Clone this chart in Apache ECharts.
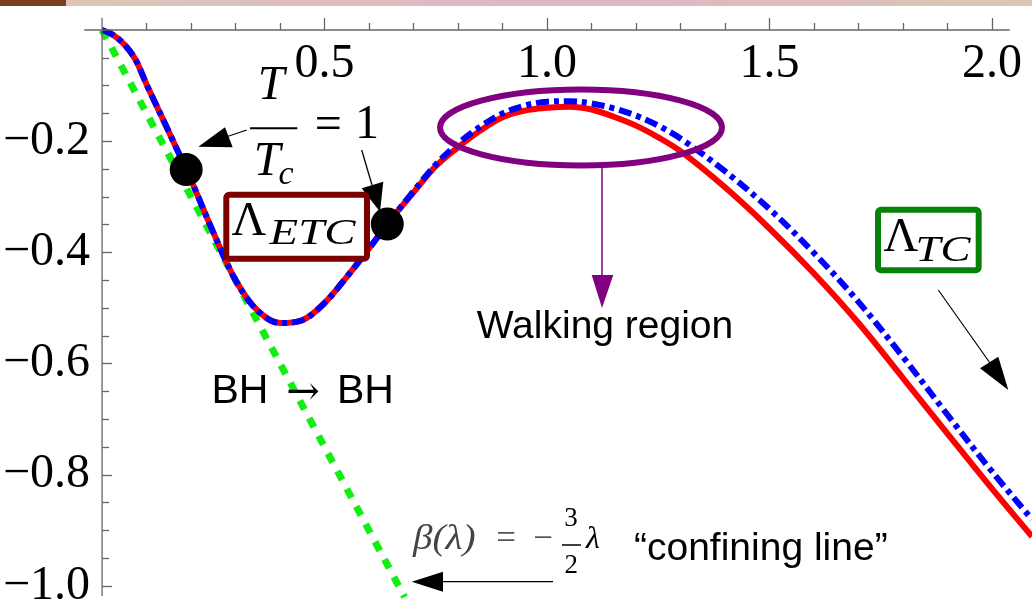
<!DOCTYPE html>
<html><head><meta charset="utf-8">
<script src="https://cdn.jsdelivr.net/npm/echarts@6/dist/echarts.min.js"></script>
<style>html,body{margin:0;padding:0;background:#fff}#c{width:1032px;height:610px}</style>
</head><body><div id="c"></div>
<script>
// ---- data ----
const xTicks = [0.5, 1.0, 1.5, 2.0];
const xTickLabels = ['0.5', '1.0', '1.5', '2.0'];
const xMinorTicks = [0.1, 0.2, 0.3, 0.4, 0.6, 0.7, 0.8, 0.9, 1.1, 1.2, 1.3, 1.4, 1.6, 1.7, 1.8, 1.9];
const yTicks = [-0.2, -0.4, -0.6, -0.8, -1.0];
const yTickLabels = ['\u22120.2', '\u22120.4', '\u22120.6', '\u22120.8', '\u22121.0'];

const redX = [0, 0.025, 0.05, 0.075, 0.1, 0.15, 0.2, 0.25, 0.3, 0.35, 0.4, 0.45, 0.5, 0.55, 0.6, 0.65, 0.7, 0.75, 0.8, 0.85, 0.9, 0.95, 1.0, 1.05, 1.1, 1.15, 1.2, 1.25, 1.3, 1.4, 1.5, 1.6, 1.7, 1.8, 1.9, 2.0, 2.09];
const redY = [0, -0.009, -0.026, -0.053, -0.098, -0.183, -0.270, -0.364, -0.450, -0.505, -0.527, -0.522, -0.491, -0.444, -0.393, -0.340, -0.292, -0.245, -0.211, -0.181, -0.157, -0.145, -0.140, -0.138, -0.143, -0.156, -0.172, -0.193, -0.218, -0.283, -0.357, -0.438, -0.527, -0.626, -0.726, -0.825, -0.911];

const blueX = [0, 0.025, 0.05, 0.075, 0.1, 0.15, 0.2, 0.25, 0.3, 0.35, 0.4, 0.45, 0.5, 0.55, 0.6, 0.65, 0.7, 0.75, 0.8, 0.85, 0.9, 0.95, 1.0, 1.05, 1.1, 1.15, 1.2, 1.25, 1.3, 1.4, 1.5, 1.6, 1.7, 1.8, 1.9, 2.0, 2.09];
const blueY = [0, -0.009, -0.026, -0.053, -0.098, -0.183, -0.270, -0.364, -0.450, -0.505, -0.527, -0.522, -0.491, -0.444, -0.393, -0.340, -0.290, -0.242, -0.204, -0.174, -0.150, -0.136, -0.129, -0.128, -0.132, -0.141, -0.154, -0.172, -0.195, -0.254, -0.322, -0.401, -0.489, -0.588, -0.692, -0.794, -0.880];

const greenX = [0, 0.68];
const greenY = [0, -1.02];

const dotX = [0.189, 0.641];
const dotY = [-0.251, -0.349];

// ---- helpers ----
const zip = (xs, ys) => xs.map((x, i) => [x, ys[i]]);
const fmt = (ticks, labels) => v => {
  const i = ticks.findIndex(t => Math.abs(t - v) < 1e-6);
  return i >= 0 ? labels[i] : '';
};
const axisColor = '#666';
const tickStyle = {color: axisColor, width: 1.3};
const serif = '"Liberation Serif", "Times New Roman", serif';
const sans = '"Liberation Sans", Arial, sans-serif';

const chart = echarts.init(document.getElementById('c'), null, {renderer: 'canvas'});
chart.setOption({
  animation: false,
  backgroundColor: '#fff',
  grid: {left: 101, top: 30, width: 934.23, height: 557.5, containLabel: false},
  xAxis: [{
    type: 'value', min: 0, max: 2.09, position: 'top',
    axisLine: {show: false},
    axisTick: {show: true, inside: false, length: 12, customValues: xTicks, lineStyle: tickStyle},
    minorTick: {show: false},
    axisLabel: {show: true, inside: true, margin: 34, verticalAlign: 'middle', customValues: xTicks,
      fontFamily: serif, fontSize: 48, color: '#000', formatter: fmt(xTicks, xTickLabels)},
    splitLine: {show: false}
  }, {
    type: 'value', min: 0, max: 2.09, position: 'top',
    axisLine: {show: false},
    axisTick: {show: true, inside: false, length: 7, customValues: xMinorTicks, lineStyle: tickStyle},
    axisLabel: {show: false},
    splitLine: {show: false}
  }],
  yAxis: {
    type: 'value', min: -1, max: 0, interval: 0.2, position: 'left',
    axisLine: {show: false},
    axisTick: {show: true, inside: true, length: 10, lineStyle: tickStyle},
    minorTick: {show: true, splitNumber: 4, length: 7, lineStyle: tickStyle},
    axisLabel: {show: true, margin: 12, fontFamily: serif, fontSize: 48, color: '#000',
      formatter: fmt(yTicks, yTickLabels)},
    splitLine: {show: false}, minorSplitLine: {show: false}
  },
  series: [
    {type: 'line', data: zip(greenX, greenY), showSymbol: false, clip: false, z: 2,
      lineStyle: {color: '#11ee11', width: 7, type: [10, 10], cap: 'butt'}},
    {type: 'line', data: zip(redX, redY), showSymbol: false, clip: false, smooth: 0.35, z: 3,
      lineStyle: {color: '#ff0000', width: 6}},
    {type: 'line', data: zip(blueX, blueY), showSymbol: false, clip: false, smooth: 0.35, z: 4,
      lineStyle: {color: '#0000ff', width: 6, type: [13, 5, 5, 5], cap: 'butt'}},
    {type: 'scatter', data: zip(dotX, dotY), symbol: 'circle', symbolSize: 33, clip: false, z: 6,
      itemStyle: {color: '#000', opacity: 1}}
  ]
});

// ---- annotations ----
const P = (x, y) => chart.convertToPixel({gridIndex: 0}, [x, y]);
const g = [];
const line = (x1, y1, x2, y2, color, w) => g.push({type: 'line', z: 100,
  shape: {x1, y1, x2, y2}, style: {stroke: color, lineWidth: w}});
const tri = (pts, color) => g.push({type: 'polygon', z: 100, shape: {points: pts}, style: {fill: color}});
const txt = (text, x, y, font, opts = {}) => g.push({type: 'text', z: 101,
  style: Object.assign({text, x, y, font, fill: '#000', align: 'center', verticalAlign: 'middle'}, opts)});
const wide = (text, x, y, font, sx) => g.push({type: 'text', z: 101, x, y, scaleX: sx,
  style: {text, x: 0, y: 0, font, fill: '#000', align: 'center', verticalAlign: 'middle'}});

// axis lines (with Mathematica-style overhang)
const o = P(0, 0), xe = P(2.04, 0), xs = P(-0.04, 0), yt = P(0, 0.022), yb = P(0, -1.018);
line(xs[0], o[1], xe[0], o[1], axisColor, 1.3);
line(o[0], yt[1], o[0], yb[1], axisColor, 1.3);

// top band
g.push({type: 'rect', z: 100, shape: {x: 0, y: 0, width: 1032, height: 6},
  style: {fill: new echarts.graphic.LinearGradient(0, 0, 1, 0, [
    {offset: 0, color: '#dcc8b6'}, {offset: 0.55, color: '#dcb6c6'}, {offset: 1, color: '#dcc6b4'}])}});
g.push({type: 'rect', z: 101, shape: {x: 0, y: 0, width: 66, height: 6}, style: {fill: '#7a3f1f'}});

// T / Tc = 1
txt('T', 271, 86, 'italic 48px ' + serif);
line(250, 128.3, 297.3, 128.3, '#000', 2);
txt('=', 328.3, 126, '48px ' + serif);
txt('1', 367, 125, '48px ' + serif);
txt('T', 267, 162.5, 'italic 48px ' + serif);
txt('c', 286, 175, 'italic 34px ' + serif);
line(246.7, 130, 226, 137, '#000', 1.3);
tri([[225, 127.3], [232.7, 147.3], [198.3, 146.7]], '#000');
line(361.7, 150, 372, 185, '#000', 1.3);
tri([[361.7, 188.3], [383.3, 181.7], [380, 211.7]], '#000');

// Lambda_ETC box
g.push({type: 'rect', z: 100, shape: {x: 226.3, y: 194.7, width: 140.7, height: 64, r: 3},
  style: {fill: '#fff', stroke: '#7d0000', lineWidth: 6}});
txt('\u039B', 249, 222.5, '48px ' + serif);
wide('ETC', 312.5, 235, 'italic 36px ' + serif, 1.3);

// Lambda_TC box
g.push({type: 'rect', z: 100, shape: {x: 878, y: 209.7, width: 100.7, height: 60.6, r: 3},
  style: {fill: '#fff', stroke: '#078107', lineWidth: 6}});
txt('\u039B', 901, 238.3, '48px ' + serif);
wide('TC', 943, 251.7, 'italic 36px ' + serif, 1.25);
line(938.3, 290, 990, 363, '#000', 1.2);
tri([[980, 368.3], [998.3, 356.7], [1008.3, 390]], '#000');

// Walking region
g.push({type: 'ellipse', z: 100, shape: {cx: 581, cy: 127.5, rx: 141, ry: 38},
  style: {fill: 'none', stroke: '#800080', lineWidth: 6}});
line(602, 165, 602, 280, '#800080', 1.5);
tri([[591.7, 275], [613.3, 275], [602, 308]], '#800080');
txt('Walking region', 605, 327, '39px ' + sans);

// BH -> BH
txt('BH', 240, 392, '41px ' + sans);
txt('\u2192', 303, 394, '40px "DejaVu Serif", serif');
txt('BH', 365.5, 392, '41px ' + sans);

// beta(lambda) = -3/2 lambda
g.push({type: 'text', z: 101, x: 413, y: 540, scaleX: 1.12,
  style: {text: '\u03B2(\u03BB)', x: 0, y: 0, font: 'italic 35px ' + serif, fill: '#444', align: 'left', verticalAlign: 'middle'}});
txt('=', 506, 540, '35px ' + serif, {fill: '#555'});
txt('\u2212', 543, 540, '35px ' + serif, {fill: '#555'});
txt('3', 571, 519, '27px ' + serif);
line(562, 545, 581, 545, '#000', 1.5);
txt('2', 571.3, 566, '27px ' + serif);
txt('\u03BB', 593, 540, 'italic 32px ' + serif);
line(553, 581.7, 440, 581.7, '#000', 1.2);
tri([[443, 571.7], [443, 591.7], [411.7, 581.7]], '#000');

txt('\u201Cconfining line\u201D', 634, 549, '39px ' + sans, {align: 'left'});

chart.setOption({graphic: g});
</script>
</body></html>
